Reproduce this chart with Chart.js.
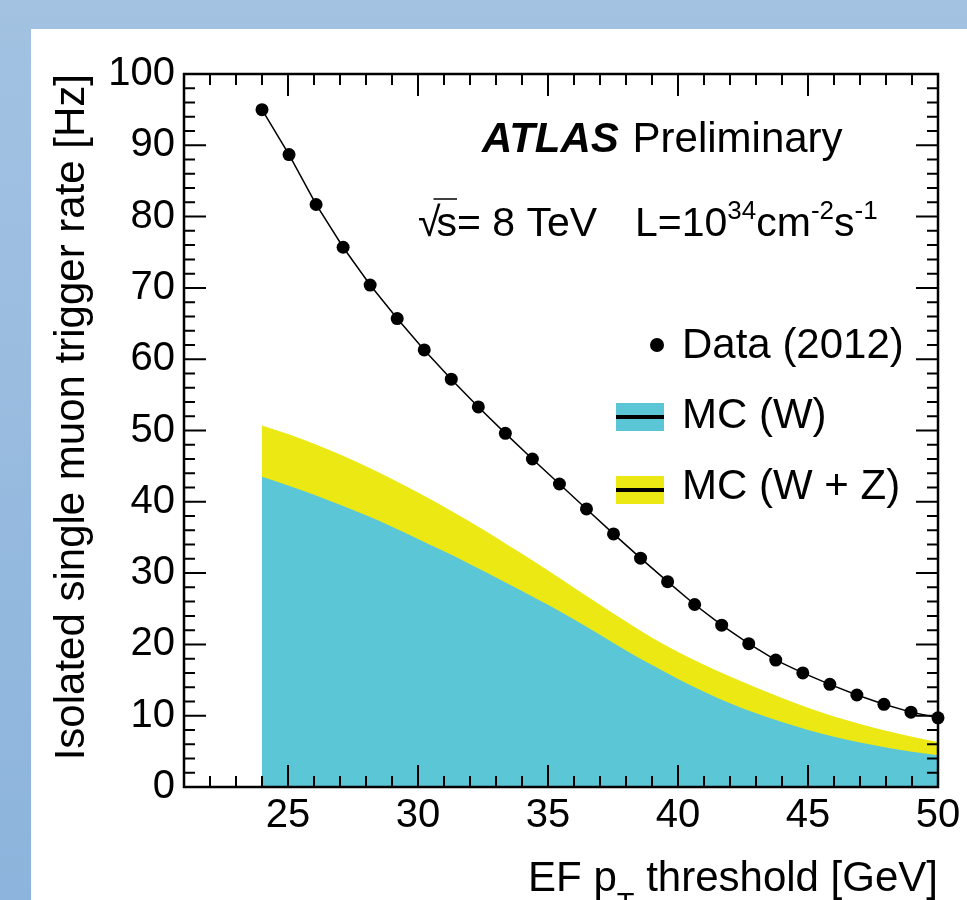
<!DOCTYPE html>
<html>
<head>
<meta charset="utf-8">
<script src="https://cdn.jsdelivr.net/npm/chart.js@4.4.1/dist/chart.umd.min.js"></script>
<style>
  html, body { margin: 0; padding: 0; }
  body { width: 967px; height: 900px; overflow: hidden; position: relative;
         background: linear-gradient(180deg, #a3c2e2, #8cb4dc); }
  #panel { position: absolute; left: 31px; top: 29px; right: 0; bottom: 0; background: #fff; }
  #rateChart { position: absolute; left: 0; top: 0; }
</style>
</head>
<body>
<div id="panel"></div>
<canvas id="rateChart" width="967" height="900"></canvas>
<script>
// EF pT threshold [GeV] of the data points
const dataPt = [24.00, 25.04, 26.08, 27.12, 28.16, 29.20, 30.24, 31.28, 32.32, 33.36, 34.40, 35.44, 36.48,
                37.52, 38.56, 39.60, 40.64, 41.68, 42.72, 43.76, 44.80, 45.84, 46.88, 47.92, 48.96, 50.00];
// measured rate [Hz], data 2012
const dataRate = [95.0, 88.7, 81.7, 75.7, 70.4, 65.7, 61.3, 57.2, 53.3, 49.6, 46.0, 42.5, 39.0,
                  35.5, 32.1, 28.8, 25.6, 22.7, 20.1, 17.8, 16.0, 14.4, 12.9, 11.6, 10.5, 9.7];

// MC curves
const mcPt = [24, 25, 26, 27, 28, 29, 30, 31, 32, 33, 34, 35, 36, 37,
              38, 39, 40, 41, 42, 43, 44, 45, 46, 47, 48, 49, 50];
const mcW = [43.5, 42.3, 41.0, 39.6, 38.1, 36.5, 34.8, 33.05, 31.25, 29.4, 27.5, 25.55, 23.5, 21.35,
             19.15, 17.1, 15.15, 13.35, 11.75, 10.35, 9.1, 8.0, 7.05, 6.25, 5.55, 4.95, 4.45];
const mcWZ = [50.7, 49.5, 48.15, 46.65, 45.0, 43.2, 41.3, 39.3, 37.2, 35.0, 32.7, 30.35, 27.95, 25.55,
              23.2, 20.95, 18.95, 17.15, 15.5, 13.95, 12.5, 11.1, 9.9, 8.85, 7.9, 7.05, 6.3];

const xTicks = [25, 30, 35, 40, 45, 50];
const yTicks = [0, 10, 20, 30, 40, 50, 60, 70, 80, 90, 100];

const FONT = '"Liberation Sans", Arial, Helvetica, sans-serif';
Chart.defaults.font.family = FONT;
Chart.defaults.color = '#000';

const toXY = (xs, ys) => xs.map((x, i) => ({ x, y: ys[i] }));

// ROOT style frame with inward ticks on all four sides
const rootFrame = {
  id: 'rootFrame',
  afterDatasetsDraw(chart) {
    const { ctx, chartArea: a, scales: { x, y } } = chart;
    ctx.save();
    ctx.strokeStyle = '#000';
    ctx.lineWidth = 2;
    ctx.beginPath();
    for (let v = 21; v <= 50; v++) {
      const px = x.getPixelForValue(v);
      const len = xTicks.includes(v) ? 22 : 11;
      ctx.moveTo(px, a.bottom); ctx.lineTo(px, a.bottom - len);
      ctx.moveTo(px, a.top); ctx.lineTo(px, a.top + len);
    }
    for (let v = 0; v <= 100; v += 2) {
      const py = y.getPixelForValue(v);
      const len = yTicks.includes(v) ? 22 : 11;
      ctx.moveTo(a.left, py); ctx.lineTo(a.left + len, py);
      ctx.moveTo(a.right, py); ctx.lineTo(a.right - len, py);
    }
    ctx.stroke();
    ctx.lineWidth = 2.5;
    ctx.strokeRect(a.left, a.top, a.right - a.left, a.bottom - a.top);
    ctx.restore();
  },
  afterDraw(chart) {
    const { ctx } = chart;
    const ds = chart.data.datasets;
    ctx.save();
    ctx.fillStyle = '#000';
    ctx.textBaseline = 'alphabetic';

    // ATLAS Preliminary
    ctx.font = 'italic bold 42px ' + FONT;
    ctx.fillText('ATLAS', 482, 152);
    let w = ctx.measureText('ATLAS').width;
    ctx.font = '42px ' + FONT;
    ctx.fillText(' Preliminary', 484 + w, 152);

    // sqrt(s) = 8 TeV, L = 10^34 cm^-2 s^-1
    const base = 236, big = '41px ' + FONT, small = '26px ' + FONT;
    ctx.font = big;
    ctx.fillText('\u221A', 418, base);
    let cx = 418 + ctx.measureText('\u221A').width - 4;
    const sw = ctx.measureText('s').width;
    ctx.fillText('s', cx, base);
    ctx.lineWidth = 1.5;
    ctx.beginPath(); ctx.moveTo(cx - 3, 199); ctx.lineTo(cx + sw, 199); ctx.stroke();
    cx += sw;
    ctx.fillText('= 8 TeV', cx, base);
    cx = 635;
    const parts = [['L=10', big, 0], ['34', small, -17], ['cm', big, 0], ['-2', small, -17],
                   ['s', big, 0], ['-1', small, -17]];
    parts.forEach(([t, f, dy]) => {
      ctx.font = f;
      ctx.fillText(t, cx, base + dy);
      cx += ctx.measureText(t).width;
    });

    // legend
    ctx.font = '42px ' + FONT;
    ctx.beginPath(); ctx.arc(657, 345, 7, 0, Math.PI * 2); ctx.fill();
    ctx.fillText('Data (2012)', 682, 358);
    ctx.fillStyle = ds[1].backgroundColor; ctx.fillRect(616, 403, 48, 28);
    ctx.fillStyle = '#000'; ctx.fillRect(616, 415, 48, 4);
    ctx.fillText('MC (W)', 682, 428);
    ctx.fillStyle = ds[2].backgroundColor; ctx.fillRect(616, 476, 48, 28);
    ctx.fillStyle = '#000'; ctx.fillRect(616, 488, 48, 4);
    ctx.fillText('MC (W + Z)', 682, 499);

    // x axis title with subscript T, right aligned to the axis end
    const xt = [['EF p', '42px ' + FONT, 0], ['T', '29px ' + FONT, 22], [' threshold [GeV]', '42px ' + FONT, 0]];
    let total = 0;
    xt.forEach(([t, f]) => { ctx.font = f; total += ctx.measureText(t).width; });
    cx = chart.chartArea.right - total;
    xt.forEach(([t, f, dy]) => {
      ctx.font = f;
      ctx.fillText(t, cx, 891 + dy);
      cx += ctx.measureText(t).width;
    });
    ctx.restore();
  }
};

new Chart(document.getElementById('rateChart'), {
  type: 'line',
  data: {
    datasets: [{
      label: 'Data (2012)',
      data: toXY(dataPt, dataRate),
      borderColor: '#000',
      borderWidth: 1.5,
      pointRadius: 6.5,
      pointBackgroundColor: '#000',
      pointBorderWidth: 0,
      tension: 0,
      clip: false,
      order: 0
    }, {
      label: 'MC (W)',
      data: toXY(mcPt, mcW),
      backgroundColor: '#5ac6d6',
      borderWidth: 0,
      pointRadius: 0,
      fill: 'origin',
      cubicInterpolationMode: 'monotone',
      order: 1
    }, {
      label: 'MC (W + Z)',
      data: toXY(mcPt, mcWZ),
      backgroundColor: '#ebe814',
      borderWidth: 0,
      pointRadius: 0,
      fill: 'origin',
      cubicInterpolationMode: 'monotone',
      order: 2
    }]
  },
  options: {
    responsive: false,
    animation: false,
    layout: { padding: { top: 74, right: 29, left: 0, bottom: 0 } },
    plugins: { legend: { display: false }, tooltip: { enabled: false } },
    scales: {
      x: {
        type: 'linear',
        min: 21,
        max: 50,
        grid: { display: false, drawTicks: false },
        border: { display: false },
        afterBuildTicks: s => { s.ticks = xTicks.map(v => ({ value: v })); },
        afterFit: s => { s.height = 113; s.paddingLeft = 0; s.paddingRight = 0; },
        ticks: { padding: 5, font: { size: 40 }, maxRotation: 0, autoSkip: false }
      },
      y: {
        min: 0,
        max: 100,
        grid: { display: false, drawTicks: false },
        border: { display: false },
        afterBuildTicks: s => { s.ticks = yTicks.map(v => ({ value: v })); },
        afterFit: s => { s.width = 184; s.paddingTop = 0; s.paddingBottom = 0; },
        ticks: { padding: 9, font: { size: 40 }, autoSkip: false },
        title: {
          display: true,
          text: 'Isolated single muon trigger rate [Hz]',
          align: 'end',
          font: { size: 42 },
          padding: { top: 47, bottom: 0 }
        }
      }
    }
  },
  plugins: [rootFrame]
});
</script>
</body>
</html>
